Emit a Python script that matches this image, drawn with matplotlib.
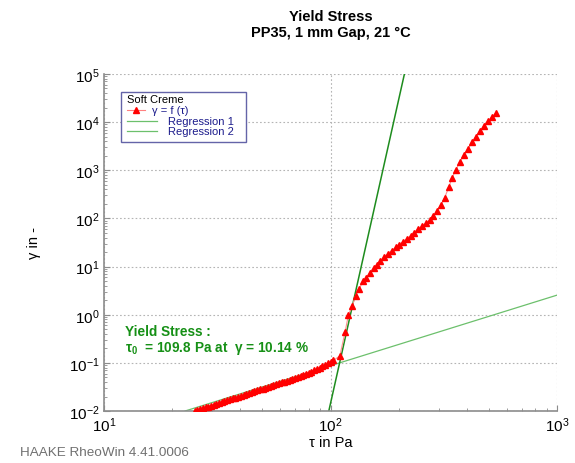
import matplotlib

matplotlib.use("Agg")
import matplotlib.pyplot as plt
from matplotlib.lines import Line2D
from matplotlib.patches import Rectangle
from matplotlib.ticker import LogLocator, NullFormatter

plt.rcParams["font.family"] = ["Liberation Sans", "DejaVu Sans"]
plt.rcParams["mathtext.fontset"] = "custom"
plt.rcParams["mathtext.rm"] = "Liberation Sans"
plt.rcParams["mathtext.it"] = "Liberation Sans"
plt.rcParams["mathtext.bf"] = "Liberation Sans:bold"

# measured curve gamma = f(tau)
tau = [
    25.1, 25.8, 26.5, 27.3, 28.1, 28.8, 29.6, 30.5, 31.3, 32.2,
    33.1, 34.0, 35.0, 36.0, 37.0, 38.0, 39.1, 40.2, 41.3, 42.5,
    43.7, 44.9, 46.1, 47.4, 48.8, 50.1, 51.5, 53.0, 54.5, 56.0,
    57.5, 59.2, 60.8, 62.5, 64.3, 66.1, 67.9, 69.8, 71.8, 73.8,
    75.9, 78.0, 80.2, 82.4, 84.7, 87.1, 89.5, 92.0, 94.6, 97.3,
    100.0, 103.0, 110.0, 116.0, 120.0, 125.0, 129.0, 134.0, 139.0, 144.0,
    149.0, 155.0, 161.0, 166.0, 173.0, 179.0, 186.0, 194.0, 200.0, 209.0,
    217.0, 226.0, 233.0, 243.0, 253.0, 263.0, 274.0, 284.0, 294.0, 307.0,
    319.0, 333.0, 343.0, 357.0, 372.0, 387.0, 404.0, 421.0, 437.0, 455.0,
    475.0, 495.0, 514.0, 537.0,
]
gamma = [
    0.0100, 0.0104, 0.0109, 0.0114, 0.0119, 0.0124, 0.0129, 0.0135, 0.0141, 0.0147,
    0.0153, 0.0160, 0.0167, 0.0175, 0.0182, 0.0190, 0.0199, 0.0207, 0.0216, 0.0226,
    0.0236, 0.0246, 0.0257, 0.0268, 0.0282, 0.0293, 0.0305, 0.0318, 0.0331, 0.0345,
    0.0360, 0.0375, 0.0391, 0.0408, 0.0426, 0.0445, 0.0465, 0.0485, 0.0508, 0.0533,
    0.0561, 0.0592, 0.0624, 0.0661, 0.0700, 0.0745, 0.0794, 0.0851, 0.0916, 0.0991,
    0.104, 0.112, 0.140, 0.44, 1.0, 1.55, 2.5, 3.5, 4.9, 5.9,
    7.5, 9.5, 11.0, 13.3, 16.0, 18.6, 21.5, 24.9, 28.7, 33.0,
    38.0, 44.0, 51.0, 59.0, 68.0, 79.0, 92.0, 110.0, 140.0, 186.0,
    271.0, 443.0, 680.0, 1000.0, 1480.0, 2050.0, 2750.0, 3800.0, 4900.0, 6450.0,
    8300.0, 10500.0, 12600.0, 15500.0,
]

# regression lines (end points)
reg1_tau = [98.3, 212.0]
reg1_gamma = [0.01, 1e5]
reg2_tau = [22.8, 1000.0]
reg2_gamma = [0.01, 2.55]

fig = plt.figure(figsize=(5.75, 4.64), dpi=100)
ax = fig.add_axes([104 / 575, 52 / 464, 453 / 575, 337 / 464])

ax.plot(reg2_tau, reg2_gamma, color="#6cc06c", linewidth=0.9, zorder=2)
ax.plot(reg1_tau, reg1_gamma, color="#1e8c1e", linewidth=1.1, zorder=2)
ax.plot(
    tau, gamma,
    color="#ff9090", linewidth=0.8,
    marker="^", markersize=4.0,
    markerfacecolor="#ff0000", markeredgecolor="#ff0000",
    zorder=3,
)

ax.set_xscale("log")
ax.set_yscale("log")
ax.set_xlim(10, 1000)
ax.set_ylim(1e-2, 1e5)
ax.yaxis.set_major_locator(LogLocator(base=10, numticks=10))
ax.yaxis.set_minor_locator(LogLocator(base=10, subs=range(2, 10), numticks=20))
ax.yaxis.set_minor_formatter(NullFormatter())
ax.xaxis.set_minor_formatter(NullFormatter())

ax.grid(True, which="major", linestyle=(0, (1.5, 2)), color="#b4b4b4", linewidth=0.8)
for side in ("top", "right"):
    ax.spines[side].set_visible(False)
for side in ("left", "bottom"):
    ax.spines[side].set_color("#8c8c8c")
    ax.spines[side].set_linewidth(1.2)
ax.tick_params(which="major", direction="in", length=4, color="#8c8c8c",
               labelsize=11, pad=3)
ax.tick_params(which="minor", direction="in", length=2.5, color="#8c8c8c")

ax.set_xlabel("τ in Pa", fontsize=10.5, labelpad=1)
ax.set_ylabel("γ in -", fontsize=10.5, labelpad=20)

fig.text(331 / 575, 1 - 17 / 464, "Yield Stress", ha="center", va="center",
         fontsize=10.5, fontweight="bold")
fig.text(331 / 575, 1 - 33 / 464, "PP35, 1 mm Gap, 21 °C", ha="center",
         va="center", fontsize=10.5, fontweight="bold")
fig.text(20 / 575, 1 - 453 / 464, "HAAKE RheoWin 4.41.0006", ha="left",
         va="center", fontsize=9.7, color="#707070")

# legend box
tr = ax.transAxes
ax.add_patch(Rectangle((0.0375, 0.7982), 0.276, 0.1484, transform=tr,
                       facecolor="white", edgecolor="#6464a8", linewidth=1.0,
                       zorder=5))
ax.text(0.0508, 0.926, "Soft Creme", transform=tr, fontsize=8,
        va="center", zorder=6)
ax.add_line(Line2D([0.0508, 0.0905], [0.893, 0.893], transform=tr,
                   color="#ff8080", linewidth=0.8, zorder=6))
ax.add_line(Line2D([0.0706], [0.893], transform=tr, marker="^",
                   markersize=4.0, color="#ff0000", zorder=6))
ax.text(0.106, 0.893, "γ = f (τ)", transform=tr, fontsize=8,
        va="center", color="#1c1c8c", zorder=6)
for yy, name in ((0.8605, "Regression 1"), (0.831, "Regression 2")):
    ax.add_line(Line2D([0.0508, 0.117], [yy, yy], transform=tr,
                       color="#6cc06c", linewidth=0.9, zorder=6))
    ax.text(0.1413, yy, name, transform=tr, fontsize=8, va="center",
            color="#1c1c8c", zorder=6)

ax.text(0.046, 0.238, "Yield Stress :", transform=tr, fontsize=9.8,
        fontweight="bold", color="#169016", va="center")
ax.text(0.046, 0.189, r"$\mathbf{\tau_0}$  = 109.8 Pa at  γ = 10.14 %",
        transform=tr, fontsize=9.8, fontweight="bold", color="#169016",
        va="center")

fig.savefig("out.png", dpi=100)
